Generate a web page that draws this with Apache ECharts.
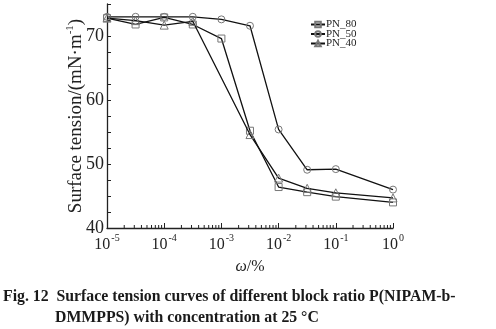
<!DOCTYPE html>
<html>
<head>
<meta charset="utf-8">
<script src="https://cdn.jsdelivr.net/npm/echarts@6/dist/echarts.min.js"></script>
<style>
  html, body { margin: 0; padding: 0; background: #fff; }
  #chart { width: 496px; height: 329px; }
</style>
</head>
<body>
<div id="chart"></div>
<script>
// Mass fraction of polymer (ω, %), log-spaced half decades
const concentration = [1e-5, 3.16e-5, 1e-4, 3.16e-4, 1e-3, 3.16e-3, 1e-2, 3.16e-2, 1e-1, 1];

// Surface tension, mN·m⁻¹
const pn80 = [72.8, 71.8, 72.9, 71.8, 69.6, 55.2, 46.4, 45.6, 44.9, 44.0];
const pn50 = [73.0, 73.0, 73.0, 73.0, 72.6, 71.6, 55.4, 49.1, 49.2, 46.0];
const pn40 = [72.8, 72.4, 71.7, 72.3, null, 54.6, 47.8, 46.2, 45.5, 44.7];

const seriesNames = ['PN_80', 'PN_50', 'PN_40'];
const seriesSymbols = ['rect', 'circle', 'triangle'];

// Log-axis minor tick positions (2..9 within each decade)
const minorTicks = [];
for (let e = -5; e < 0; e++) {
  for (let m = 2; m <= 9; m++) minorTicks.push(m * Math.pow(10, e));
}

const serif = "'Liberation Serif', 'Times New Roman', serif";
const ink = '#222';

function pairs(ys) {
  const out = [];
  concentration.forEach((x, i) => { if (ys[i] != null) out.push([x, ys[i]]); });
  return out;
}

const lineSeries = [pn80, pn50, pn40].map((ys, k) => ({
  name: seriesNames[k],
  type: 'line',
  data: pairs(ys),
  symbol: seriesSymbols[k],
  symbolSize: k === 2 ? 8 : 7,
  showAllSymbol: true,
  connectNulls: true,
  lineStyle: { color: '#111', width: 1.3 },
  itemStyle: { color: 'rgba(255,255,255,0)', borderColor: '#777', borderWidth: 1 },
  z: 3 + k,
  animation: false
}));

const chart = echarts.init(document.getElementById('chart'), null, { renderer: 'canvas' });

chart.setOption({
  animation: false,
  backgroundColor: '#fff',
  grid: { left: 107, right: 103, top: 4, bottom: 101 },
  legend: {
    data: seriesNames,
    orient: 'vertical',
    left: 305,
    top: 14,
    itemWidth: 14,
    itemHeight: 7,
    itemGap: -1.5,
    textStyle: { fontFamily: serif, fontSize: 11, lineHeight: 9, color: ink, padding: [0, 0, 0, -4] }
  },
  xAxis: {
    type: 'log',
    logBase: 10,
    min: 1e-5,
    max: 1,
    name: '{w|ω}/%',
    nameLocation: 'middle',
    nameGap: 31,
    nameMoveOverlap: false,
    nameTextStyle: {
      fontFamily: serif, fontSize: 16, color: ink,
      rich: { w: { fontFamily: serif, fontSize: 16, fontStyle: 'italic', color: ink } }
    },
    axisLine: { lineStyle: { color: '#222', width: 1.3 } },
    axisTick: { inside: true, length: 5, lineStyle: { color: '#222' } },
    splitLine: { show: false },
    axisLabel: {
      margin: 5,
      color: ink,
      formatter: v => '{b|10}{s|' + Math.round(Math.log10(v)) + '}',
      rich: {
        b: { fontFamily: serif, fontSize: 16, lineHeight: 20, color: ink, verticalAlign: 'bottom' },
        s: { fontFamily: serif, fontSize: 10, lineHeight: 10, color: ink, verticalAlign: 'top', padding: [0, 0, 0, 1] }
      }
    }
  },
  yAxis: {
    type: 'value',
    min: 40,
    max: 75,
    interval: 2.5,
    name: 'Surface tension/(mN·m{s|-1})',
    nameLocation: 'middle',
    nameGap: 20,
    nameMoveOverlap: false,
    nameRotate: 90,
    nameTextStyle: {
      fontFamily: serif, fontSize: 19, lineHeight: 22, color: ink, verticalAlign: 'bottom',
      rich: { s: { fontFamily: serif, fontSize: 11, lineHeight: 11, color: ink, verticalAlign: 'top' } }
    },
    axisLine: { lineStyle: { color: '#222', width: 1.3 } },
    axisTick: { inside: true, length: 4, lineStyle: { color: '#222' } },
    splitLine: { show: false },
    axisLabel: {
      margin: 3,
      fontFamily: serif,
      fontSize: 18,
      color: ink,
      formatter: v => (v % 10 === 0 ? String(v) : '')
    }
  },
  graphic: [
    {
      type: 'text', left: 3, top: 289,
      style: { text: 'Fig. 12  Surface tension curves of different block ratio P(NIPAM-b-',
               font: 'bold 15.8px ' + serif, fill: '#1a1a1a' }
    },
    {
      type: 'text', left: 55, top: 310,
      style: { text: 'DMMPPS) with concentration at 25 °C',
               font: 'bold 15.8px ' + serif, fill: '#1a1a1a' }
    }
  ],
  series: lineSeries.concat([{
    name: 'minor ticks',
    type: 'custom',
    silent: true,
    data: minorTicks.map(v => [v, 40]),
    renderItem: (params, api) => {
      const p = api.coord([api.value(0), api.value(1)]);
      return {
        type: 'line',
        shape: { x1: p[0], y1: p[1], x2: p[0], y2: p[1] - 3 },
        style: { stroke: '#222', lineWidth: 1 }
      };
    },
    z: 2
  }])
});
</script>
</body>
</html>
